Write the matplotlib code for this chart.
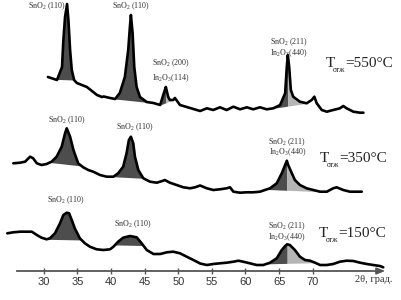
import numpy as np
import matplotlib.pyplot as plt

plt.rcParams['font.family'] = ['Liberation Serif', 'DejaVu Serif']
plt.rcParams['mathtext.fontset'] = 'custom'
plt.rcParams['mathtext.rm'] = 'Liberation Serif'
plt.rcParams['mathtext.it'] = 'Liberation Serif:italic'

# XRD patterns: 2theta (deg) and intensity (a.u.)
tth_550 = [30.6, 31.95, 32.7, 32.9, 33.15, 33.45, 33.65, 33.9, 34.15, 34.5, 34.9, 36.4, 37.9, 38.65,
           38.9, 39.85, 40.6, 41.3, 42.05, 42.55, 42.8, 42.95, 43.2, 43.45, 43.8, 44.3, 45.3, 46.3,
           47.3, 48.0, 48.15, 48.5, 48.75, 49.25, 49.5, 50.25, 51.25, 52.25, 53.25, 54.25, 55.2, 56.2,
           57.2, 58.2, 59.2, 60.2, 61.15, 62.15, 63.15, 64.15, 65.15, 65.9, 66.15, 66.3, 66.5, 66.75,
           67.1, 68.1, 69.1, 69.85, 70.25, 70.6, 71.35, 72.1, 73.05, 74.05, 74.55, 75.05, 76.05,
           77.05, 77.55]
int_550 = [35, 32, 45, 72, 95, 108, 92, 62, 42, 32, 29, 25, 17, 15,
           15.5, 14, 13, 19, 35, 62, 85, 97, 79, 45, 25, 15, 10, 9,
           7, 22, 25, 15, 12, 12, 14, 7, 5, 3, 1, 3.7, 2, 4.7,
           2, 5.3, 2.7, 4.7, 2.7, 4.7, 2.7, 3.7, 7, 18.7, 45.3, 57, 45.3, 22,
           15.3, 10.3, 8.7, 12, 15.3, 8.7, 2, 0.3, 2, 3.7, 6, 3.7, 0.3,
           -0.7, -0.7]

tth_350 = [25.45, 26.45, 27.2, 27.95, 28.4, 28.95, 29.65, 30.4, 31.15, 31.9, 32.65, 33.15, 33.4,
           33.9, 34.4, 35.1, 35.85, 36.6, 37.35, 38.35, 39.35, 40.35, 41.05, 41.8, 42.3, 42.65,
           42.95, 43.3, 43.55, 44.05, 44.8, 45.8, 46.8, 47.75, 48.0, 48.75, 49.75, 50.75, 51.75,
           52.5, 53.25, 54.25, 55.2, 56.2, 57.2, 57.7, 58.2, 59.2, 60.2, 61.15, 62.15, 62.9, 63.65,
           64.65, 65.4, 65.9, 66.15, 66.35, 66.9, 67.35, 68.1, 69.1, 70.1, 71.1, 72.1, 73.05,
           73.55, 74.55, 75.55, 76.55, 77.3]
int_350 = [28.7, 29.3, 30.3, 35.3, 33.7, 28.7, 27, 28, 30.3, 35.3, 45.3, 58.7, 63.7,
           55.3, 42, 28.7, 24.7, 22, 20.3, 17, 15.3, 15.3, 18.7, 25.3, 38.7, 52,
           55.3, 48.7, 35.3, 22, 13.7, 10.3, 9.3, 11.3, 12, 9.3, 7, 4.7, 3.7,
           4.7, 6.5, 3.7, 2, 2.7, 3.7, 4.7, 0.3, -0.7, -0.3, -0.3, 0.3, 2, 3.7,
           8.7, 18.7, 27, 31.3, 27, 18.7, 12, 7, 3.7, 2, 0.3, 0.3, 3.7,
           4.7, 2, 0.3, 0.3, 0.3]

tth_150 = [24.55, 25.45, 26.45, 28.2, 28.95, 29.65, 30.4, 30.9, 31.65, 32.4, 32.9, 33.4, 33.75,
           34.15, 34.6, 35.35, 36.1, 36.85, 37.85, 38.85, 39.85, 40.35, 41.05, 41.8, 42.8, 43.8,
           44.55, 45.3, 46.3, 47.3, 48.3, 49.25, 50.25, 51.25, 52.25, 53.25, 54.25, 55.2, 56.2,
           57.2, 58.2, 58.95, 59.65, 60.65, 61.65, 62.65, 63.65, 64.65, 65.4, 65.9, 66.2, 66.6,
           67.35, 68.1, 68.85, 69.6, 70.35, 71.1, 72.1, 73.05, 74.05, 75.05, 76.05, 77.05, 78.05,
           79.0, 80.0, 80.5]
int_150 = [33.7, 34.7, 35.3, 35.3, 32, 29.3, 27.7, 28.7, 33.7, 43.7, 52, 54.3, 53.7,
           47, 38.7, 28.7, 23.7, 20.3, 17.7, 17, 17.7, 20.3, 25.3, 29.3, 31, 29.7,
           23.7, 17, 13, 13, 14.7, 15.3, 13.7, 10.3, 7, 3.5, 2, 3, 3.7,
           4.3, 5.3, 6.3, 5.3, 3.7, 2, 2, 4.3, 8.7, 17, 21, 22.7, 22,
           17, 10.3, 7, 6.3, 4.3, 2, 2, 3, 5.3, 6.3, 6, 4.3, 3,
           2, 1, -0.3]

# shaded peak windows: (start, split between SnO2/In2O3 parts or None, end)
peaks_550 = [(31.65, None, 34.5), (40.6, None, 46.3), (47.3, 48.15, 49.2), (63.9, 66.3, 69.1)]
peaks_350 = [(30.9, None, 35.6), (40.3, None, 44.8), (63.15, 66.15, 71.1)]
peaks_150 = [(30.4, None, 35.6), (40.6, None, 44.8), (63.15, 66.2, 70.35)]

temps = ['550', '350', '150']
ticks = [30, 35, 40, 45, 50, 55, 60, 65, 70]

# vertical offsets of the stacked patterns
offsets = {'550': 188, '350': 108, '150': 33}
DARK = '#4d4d4d'
LIGHT = '#b5b5b5'


def shade(ax, x, y, lo, split, hi):
    x = np.asarray(x, float)
    y = np.asarray(y, float)
    inner = x[(x > lo) & (x < hi)]
    pts = [lo, hi] + ([split] if split is not None else [])
    xs = np.unique(np.concatenate([inner, pts]))
    ys = np.interp(xs, x, y)
    base = np.interp(xs, [lo, hi], [ys[0], ys[-1]])
    if split is None:
        ax.fill_between(xs, base, ys, color=DARK, lw=0)
    else:
        m = xs <= split
        ax.fill_between(xs[m], base[m], ys[m], color=DARK, lw=0)
        m = xs >= split
        ax.fill_between(xs[m], base[m], ys[m], color=LIGHT, lw=0)


def temp_label(ax, x, y, t):
    # "T" + small subscript "отж" + "=...°C", chained one after another
    big = dict(fontsize=11, color='#222222')
    t1 = ax.text(x, y, 'T', ha='left', va='bottom', **big)
    t2 = ax.annotate('отж', xy=(1, 0.34), xycoords=t1, xytext=(-1.6, 0),
                     textcoords='offset points', ha='left', va='top',
                     fontsize=5.5, color='#222222')
    ax.annotate('=' + t + '°C', xy=(1, 0), xycoords=(t2, t1), ha='left', va='bottom', **big)


fig = plt.figure(figsize=(4.02, 3.0), dpi=100)
ax = fig.add_axes([0, 0, 1, 1])

series = [(tth_550, int_550, peaks_550, '550'),
          (tth_350, int_350, peaks_350, '350'),
          (tth_150, int_150, peaks_150, '150')]
for tth, inten, peaks, t in series:
    y = np.asarray(inten) + offsets[t]
    for lo, split, hi in peaks:
        shade(ax, tth, y, lo, split, hi)
    ax.plot(tth, y, color='black', lw=1.9, solid_joinstyle='round', solid_capstyle='round')

# peak labels
lab = dict(fontsize=5.8, color='#333333', ha='center', va='center')
ax.text(30.55, 294, 'SnO$_2$ (110)', **lab)
ax.text(42.96, 294, 'SnO$_2$ (110)', **lab)
ax.text(48.9, 237, 'SnO$_2$ (200)', **lab)
ax.text(48.9, 222, 'In$_2$O$_3$(114)', **lab)
ax.text(66.5, 258, 'SnO$_2$ (211)', **lab)
ax.text(66.5, 246.5, 'In$_2$O$_3$(440)', **lab)

ax.text(33.4, 180, 'SnO$_2$ (110)', **lab)
ax.text(43.5, 173, 'SnO$_2$ (110)', **lab)
ax.text(66.25, 158, 'SnO$_2$ (211)', **lab)
ax.text(66.25, 147.5, 'In$_2$O$_3$(440)', **lab)

ax.text(33.3, 100, 'SnO$_2$ (110)', **lab)
ax.text(43.25, 76, 'SnO$_2$ (110)', **lab)
ax.text(66.2, 74, 'SnO$_2$ (211)', **lab)
ax.text(66.2, 62.5, 'In$_2$O$_3$(440)', **lab)

temp_label(ax, 72.0, 230, '550')
temp_label(ax, 71.1, 135, '350')
temp_label(ax, 70.95, 60, '150')

# 2theta axis
ax.set_xlim(23.47, 83.29)
ax.set_ylim(0, 300)
for s in ['left', 'right', 'top']:
    ax.spines[s].set_visible(False)
ax.spines['bottom'].set_position(('data', 29))
ax.spines['bottom'].set_bounds(26, 80.3)
ax.spines['bottom'].set_color('#555555')
ax.spines['bottom'].set_linewidth(1.3)
ax.set_yticks([])
ax.set_xticks(ticks, labels=[str(t) for t in ticks],
              fontfamily='Liberation Sans', fontsize=8, color='#333333')
ax.tick_params(axis='x', direction='inout', length=5, width=1, color='#555555', pad=2)
ax.annotate('', xy=(81.2, 29), xytext=(79.5, 29),
            arrowprops=dict(arrowstyle='-|>,head_length=0.5,head_width=0.2',
                            color='#555555', lw=1.2))
ax.text(79.1, 20, '2θ, град.', fontsize=7.5, color='#333333', ha='center', va='center')

fig.savefig('out.png', dpi=100)
